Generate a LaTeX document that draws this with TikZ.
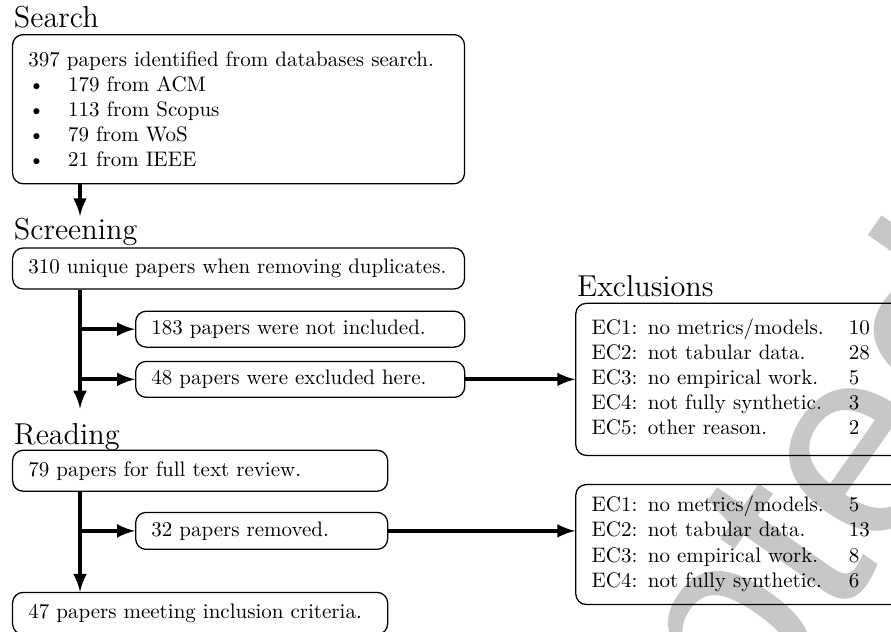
\documentclass[tikz,border=0pt]{standalone}
\usepackage{fontspec}
\newfontfamily\stampfont{Liberation Sans}
\usetikzlibrary{arrows,positioning}

\begin{document}
\begin{tikzpicture}[>=latex, line width=1.9pt]
	\tikzstyle{box}=[draw, semithick, rounded corners=5pt, align=left, inner xsep=7.5pt, anchor=north west]
	\tikzstyle{stage}=[font=\Large, inner sep=0pt, anchor=base west]
	\useasboundingbox (0,0) rectangle (424.3pt,-300.5pt);
	% stamp in the background
	\node[text=black!22, font=\stampfont\fontsize{130}{130}\selectfont, rotate=55] (stamp)
	at (319pt,-352.4pt) {Accepted};
	% % Nodes
	% search
	\node[box, text width=200.2pt, minimum height=71pt](search) at (5.7pt,-16.2pt)
	{
		397 papers identified from databases search. \\
		\makebox[19pt][l]{\textbullet}179 from ACM \\
		\makebox[19pt][l]{\textbullet}113 from Scopus \\
		\makebox[19pt][l]{\textbullet}79 from WoS \\
		\makebox[19pt][l]{\textbullet}21 from IEEE
	};
	\node[stage](searchtitle) at ([yshift=3.3pt]search.north west) {Search};
	% screening
	\node[box, text width=200.2pt, minimum height=19.5pt, below=30pt of search.south west, anchor=north west](screen)
	{310 unique papers when removing duplicates.};
	\node[stage](screentitle) at ([yshift=3.8pt]screen.north west) {Screening};
	\node[box, text width=141.7pt, minimum height=17.1pt, below right=10pt and 58.6pt of screen.south west](notincl)
	{183 papers were not included.};
	\node[box, text width=141.7pt, minimum height=17.1pt, below=6.2pt of notincl.south west, anchor=north west](excl)
	{48 papers were excluded here.};
	% reading
	\node[box, text width=163.6pt, minimum height=19.5pt, below=76.2pt of screen.south west, anchor=north west](reading)
	{79 papers for full text review.};
	\node[stage](readtitle) at ([yshift=2.4pt]reading.north west) {Reading};
	\node[box, text width=105pt, minimum height=17.6pt, below right=9.5pt and 58.6pt of reading.south west](removed)
	{32 papers removed.};
	\node[box, text width=163.6pt, minimum height=20pt, below=47.6pt of reading.south west, anchor=north west](final)
	{47 papers meeting inclusion criteria.};
	% exclusions
	\node[box, text width=200.2pt, minimum height=72.4pt, right=52.3pt of excl, anchor=west](screenec)
	{
		\begin{tabular}{@{}ll}
			EC1: no metrics/models. & 10 \\
			EC2: not tabular data. & 28 \\
			EC3: no empirical work. & 5 \\
			EC4: not fully synthetic. & 3 \\
			EC5: other reason. & 2
		\end{tabular}
	};
	\node[stage](ectitle) at ([yshift=2.9pt]screenec.north west) {Exclusions};
	\node[box, text width=200.2pt, minimum height=57.1pt, below=13.3pt of screenec.south west, anchor=north west](readec)
	{
		\begin{tabular}{@{}ll}
			EC1: no metrics/models. & 5 \\
			EC2: not tabular data. & 13 \\
			EC3: no empirical work. & 8 \\
			EC4: not fully synthetic. & 6
		\end{tabular}
	};
	% % Connectors
	\coordinate (trunk) at (38.1pt,0);
	\draw [->] (search.south -| trunk) -- (screentitle.north -| trunk);
	\draw [->, shorten >=6.2pt] (screen.south -| trunk) -- (readtitle.north -| trunk);
	\draw [->] (notincl.west -| trunk) -- (notincl);
	\draw [->] (excl.west -| trunk) -- (excl);
	\draw [->] (excl) -- (screenec);
	\draw [->] (reading.south -| trunk) -- (final.north -| trunk);
	\draw [->] (removed.west -| trunk) -- (removed);
	\draw [->] (removed.east) -- (removed.east -| readec.west);
\end{tikzpicture}
\end{document}
